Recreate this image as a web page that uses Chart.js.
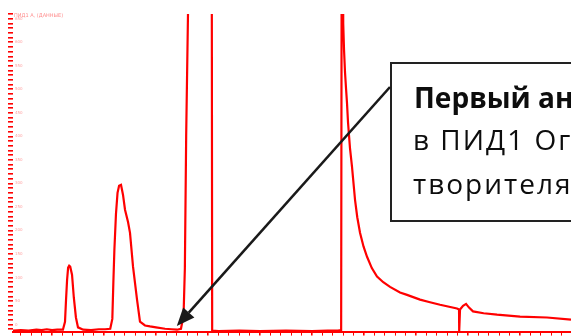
<!DOCTYPE html>
<html>
<head>
<meta charset="utf-8">
<script src="https://cdn.jsdelivr.net/npm/chart.js@4.4.1/dist/chart.umd.min.js"></script>
<style>
  html, body { margin: 0; padding: 0; background: #fff; overflow: hidden; }
  canvas { display: block; }
</style>
</head>
<body>
<canvas id="chrom" width="571" height="336"></canvas>
<script>
// Retention time, min
const retentionTimes = [
  0.25, 0.40, 0.55, 0.70, 0.80, 0.90, 1.00, 1.10, 1.21,
  1.25, 1.27, 1.29, 1.31, 1.33, 1.35, 1.385, 1.42, 1.46, 1.50, 1.60, 1.75, 1.90, 2.02, 2.12,
  2.16, 2.18, 2.20, 2.23, 2.26, 2.29, 2.327, 2.365, 2.404, 2.462, 2.50, 2.558, 2.635, 2.692, 2.788, 2.885, 3.00, 3.173, 3.30, 3.404, 3.48,
  3.53, 3.555, 3.58, 3.615, 3.64, 4.07, 4.08,
  4.20, 4.60, 5.00, 5.50, 6.00, 6.30, 6.50, 6.56,
  6.58, 6.60, 6.615, 6.635, 6.655, 6.673, 6.692, 6.73, 6.769, 6.827, 6.87, 6.923, 6.99, 7.058, 7.15, 7.25, 7.37, 7.50, 7.692, 7.827, 8.077, 8.25, 8.462, 8.788, 8.827, 8.83, 8.846, 8.904, 8.962, 9.019, 9.096, 9.30, 9.558, 10.0, 10.519, 10.98
];
// FID1 signal
const signalValues = [
  -13, -12, -13, -11, -12, -10, -12, -11, -11,
  6, 53, 95, 121, 125, 123, 106, 57, 15, -6, -11, -12, -10, -10, -9,
  12, 90, 160, 235, 280, 295, 297, 276, 244, 218, 195, 123, 53, 6, -2, -4, -6, -9, -10, -11, -9,
  20, 120, 400, 660, 1000, 1000, -13,
  -14, -13, -14, -13, -14, -13, -13, -12,
  1600, 640, 585, 535, 500, 470, 430, 375, 335, 265, 228, 195, 166, 144, 120, 102, 90, 80, 68, 63, 53, 48, 42, 34, 32, -15, 32, 40, 44, 36, 28, 24, 21, 17, 15, 10.5
];
// Labelled ticks
const timeLabelTicks = [1, 2, 3, 4, 5, 6, 7, 8, 9, 10];
const signalLabelTicks = [0, 50, 100, 150, 200, 250, 300, 350, 400, 450, 500, 550, 600, 650];
const signalTitle = 'ПИД1 A, (ДАННЫЕ)';
// Callout text and the point it points at
const calloutLines = ['Первый анализ', 'в ПИД1 Огромный пик рас-', 'творителя'];
const calloutTarget = { x: 3.40, y: -3 };

const RED = '#ff0000';

const minorStep = (lo, hi, step) => {
  const out = [];
  for (let v = lo; v <= hi + 1e-9; v += step) out.push(Math.round(v * 100) / 100);
  return out;
};

const calloutPlugin = {
  id: 'callout',
  afterDraw(chart) {
    const { ctx, scales } = chart;
    ctx.save();
    // axis title at the top of the signal axis
    ctx.fillStyle = 'rgba(255,40,40,0.55)';
    ctx.font = '5px "DejaVu Sans"';
    ctx.textBaseline = 'middle';
    ctx.fillText(signalTitle, 14, 16);

    // box
    const bx = 391, by = 63, bw = 200, bh = 158;
    ctx.fillStyle = '#fff';
    ctx.fillRect(bx, by, bw, bh);
    ctx.lineWidth = 2;
    ctx.strokeStyle = '#222';
    ctx.strokeRect(bx, by, bw, bh);

    // text
    ctx.fillStyle = '#0d0d0d';
    ctx.textBaseline = 'alphabetic';
    ctx.font = 'bold 28px "Open Sans"';
    ctx.letterSpacing = '0px';
    ctx.fillText(calloutLines[0], 414, 108);
    ctx.font = '28px "Open Sans"';
    ctx.letterSpacing = '2px';
    ctx.fillText(calloutLines[1], 413, 150);
    ctx.fillText(calloutLines[2], 413, 194);
    ctx.letterSpacing = '0px';

    // arrow from the box to the target point
    const tx = scales.x.getPixelForValue(calloutTarget.x);
    const ty = scales.y.getPixelForValue(calloutTarget.y);
    const sx = bx - 1, sy = 87;
    const ang = Math.atan2(ty - sy, tx - sx);
    const headLen = 18, headHalf = 7.5;
    const baseX = tx - headLen * Math.cos(ang), baseY = ty - headLen * Math.sin(ang);
    ctx.strokeStyle = '#1a1a1a';
    ctx.lineWidth = 2.6;
    ctx.beginPath();
    ctx.moveTo(sx, sy);
    ctx.lineTo(baseX, baseY);
    ctx.stroke();
    ctx.fillStyle = '#1a1a1a';
    ctx.beginPath();
    ctx.moveTo(tx, ty);
    ctx.lineTo(baseX + headHalf * Math.sin(ang), baseY - headHalf * Math.cos(ang));
    ctx.lineTo(baseX - headHalf * Math.sin(ang), baseY + headHalf * Math.cos(ang));
    ctx.closePath();
    ctx.fill();
    ctx.restore();
  }
};

new Chart(document.getElementById('chrom'), {
  type: 'line',
  data: {
    datasets: [{
      data: retentionTimes.map((t, i) => ({ x: t, y: signalValues[i] })),
      borderColor: RED,
      borderWidth: 2.2,
      pointRadius: 0,
      tension: 0,
      fill: false
    }]
  },
  options: {
    responsive: false,
    animation: false,
    events: [],
    layout: { padding: { top: 14, left: 0, right: 0, bottom: 0 } },
    plugins: { legend: { display: false }, tooltip: { enabled: false } },
    scales: {
      x: {
        type: 'linear',
        min: 0.25,
        max: 10.98,
        afterBuildTicks: s => { s.ticks = minorStep(0.4, 10.8, 0.2).map(v => ({ value: v })); },
        afterFit: s => { s.height = 4; },
        border: { display: true, color: RED, width: 2 },
        grid: {
          drawOnChartArea: false,
          drawTicks: true,
          tickLength: 4,
          color: RED,
          lineWidth: c => (timeLabelTicks.includes(Math.round(c.tick.value * 100) / 100) ? 1.6 : 1)
        },
        ticks: {
          autoSkip: false,
          maxRotation: 0,
          minRotation: 0,
          padding: -11,
          color: 'rgba(255,40,40,0.45)',
          font: { size: 4, family: 'DejaVu Sans' },
          callback: v => {
            const r = Math.round(v * 100) / 100;
            return timeLabelTicks.includes(r) ? String(r) : '';
          }
        }
      },
      y: {
        type: 'linear',
        min: -15,
        max: 660,
        afterBuildTicks: s => { s.ticks = minorStep(-10, 660, 10).map(v => ({ value: v })); },
        afterFit: s => { s.width = 13; },
        border: { display: false },
        grid: {
          drawOnChartArea: false,
          drawTicks: true,
          tickLength: 5,
          color: RED,
          lineWidth: 1.6
        },
        ticks: {
          mirror: true,
          padding: 2,
          autoSkip: false,
          color: 'rgba(255,40,40,0.45)',
          font: { size: 4, family: 'DejaVu Sans' },
          callback: v => (signalLabelTicks.includes(Math.round(v)) ? String(Math.round(v)) : '')
        }
      }
    }
  },
  plugins: [calloutPlugin]
});
</script>
</body>
</html>
